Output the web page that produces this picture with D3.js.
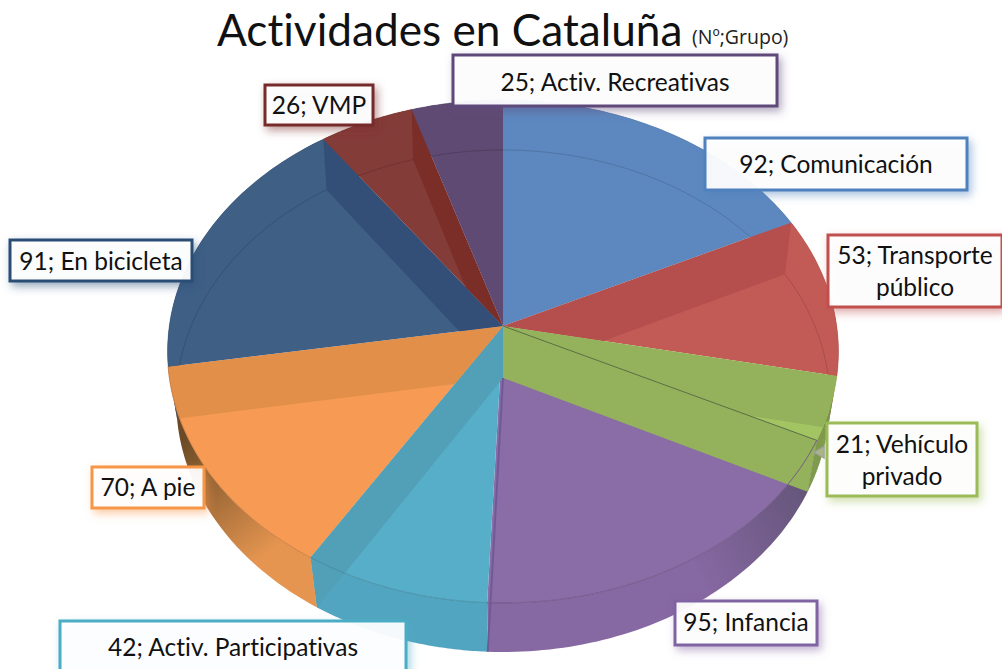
<!DOCTYPE html>
<html><head><meta charset="utf-8">
<script src="https://cdn.jsdelivr.net/npm/d3@7"></script>
<style>html,body{margin:0;padding:0;background:#fff;overflow:hidden}svg{display:block}text{font-variant-ligatures:none}</style>
</head><body><div id="c"></div>
<script>
const categories = ["Comunicación","Transporte público","Vehículo privado","Infancia","Activ. Participativas","A pie","En bicicleta","VMP","Activ. Recreativas"];
const values = [92,53,21,95,42,70,91,26,25];
const faceColors = ["#5c88bf","#c25b56","#a3c462","#8a6ca6","#57aec9","#f79b54","#3f5f85","#843c39","#5e4a72"];
const bandColors = ["#5c88bf","#b54f4e","#94b25b","#8a6ca6","#52a0b8","#e28f4a","#334f78","#7b2e28","#5e4a72"];
const borderColors = ["#4f81bd","#c0504d","#9bbb59","#8064a2","#4bacc6","#f79646","#2c4d75","#772c2a","#5f497a"];
const wallStart = ["#5c88bf","#b54f4e","#6f8a42","#5f5273","#52a5c0","#e59550","#334f78","#7b2e28","#5e4a72"];
const wallEnd = ["#5c88bf","#b54f4e","#7f9a4c","#8668a2","#52a5c0","#6b4a25","#334f78","#7b2e28","#5e4a72"];
// label layout: left, top, right, bottom, first baseline
const labelLines = [["92; Comunicación"],["53; Transporte","público"],["21; Vehículo","privado"],["95; Infancia"],["42; Activ. Participativas"],["70; A pie"],["91; En bicicleta"],["26; VMP"],["25; Activ. Recreativas"]];
const labelBoxes = [[705,138,967,190,173],[828,235,1002,307,264],[827,423,977,496,453],[675,601,817,645,631],[60,621,406,675,656],[92,467,204,508,496],[10,240,192,281,270],[265,85,373,125,114],[453,55,777,106,91]];
const titleMain = "Actividades en Cataluña";
const titleSub = "(Nº;Grupo)";

const W=1002,H=669;
const svg=d3.select("#c").append("svg").attr("width",W).attr("height",H);
const defs=svg.append("defs");

// perspective projection of the disc: top and bottom planes
const planes={top:{cx:503,cy:326,rx:333.7,ry:248.9,p:0.1014},bot:{cx:503,cy:378,rx:325.4,ry:248.9,p:0.0916}};
function proj(a,pl){const X=Math.sin(a),Y=Math.cos(a),w=1+pl.p*Y;return [pl.cx+pl.rx*X/w,pl.cy-pl.ry*Y/w];}
const line=d3.line();
const arcPts=(a0,a1,pl)=>d3.range(0,61).map(i=>proj(a0+(a1-a0)*i/60,pl));
const apex=pl=>[pl.cx,pl.cy];
const pie=d3.pie().sort(null).value(d=>d).startAngle(0).endAngle(2*Math.PI);
const arcs=pie(values);
const T=planes.top,B=planes.bot;

function sector(a0,a1,pl){return line([apex(pl),...arcPts(a0,a1,pl)])+"Z";}
function band(a,color,clip){
  const d=line([apex(T),proj(a,T),proj(a,B),apex(B)])+"Z";
  const p=g.append("path").attr("d",d).attr("fill",color);
  if(clip)p.attr("clip-path",`url(#${clip})`);
}

// outer wall gradients and clips
arcs.forEach((s,i)=>{
  const a=proj(s.startAngle,T),b=proj(s.endAngle,T);
  const gr=defs.append("linearGradient").attr("id","wall"+i).attr("gradientUnits","userSpaceOnUse")
    .attr("x1",a[0]).attr("y1",a[1]).attr("x2",b[0]).attr("y2",b[1]);
  gr.append("stop").attr("offset",i===3?0.02:(i===5?0.12:0)).attr("stop-color",wallStart[i]);
  gr.append("stop").attr("offset",i===3?0.45:(i===5?0.72:1)).attr("stop-color",wallEnd[i]);
  defs.append("clipPath").attr("id","top"+i).append("path").attr("d",sector(s.startAngle,s.endAngle,T));
});

const g=svg.append("g");
// walls
g.selectAll("path.wall").data(arcs).join("path").attr("class","wall")
  .attr("d",s=>line([...arcPts(s.startAngle,s.endAngle,T),...arcPts(s.startAngle,s.endAngle,B).reverse()])+"Z")
  .attr("fill",(s,i)=>`url(#wall${i})`);
// top faces
g.selectAll("path.face").data(arcs).join("path").attr("class","face")
  .attr("d",s=>sector(s.startAngle,s.endAngle,T))
  .attr("fill",(s,i)=>faceColors[i]);
// radial inner walls seen through the translucent disc
band(arcs[1].startAngle,bandColors[1],"top1");
band(arcs[2].startAngle,bandColors[2],"top2");
band(arcs[2].endAngle,bandColors[2]);
band(arcs[4].endAngle,bandColors[4]);
band(arcs[5].endAngle,bandColors[5],"top5");
band(arcs[6].endAngle,bandColors[6],"top6");
band(arcs[7].endAngle,bandColors[7],"top7");
// purple/teal floor edge
g.append("path").attr("d",line([apex(B),proj(arcs[3].endAngle,B)])).attr("stroke","#6f5a98").attr("stroke-width",2).attr("fill","none");
g.append("path").attr("d",line([apex(T),proj(arcs[2].endAngle,T)])).attr("stroke","#5a6f44").attr("stroke-width",1).attr("fill","none");
// bottom rim seen through the disc
arcs.forEach((s,i)=>{
  g.append("path").attr("d",line(arcPts(s.startAngle,s.endAngle,B))).attr("fill","none")
   .attr("stroke",d3.color(faceColors[i]).darker(1)).attr("stroke-opacity",.45).attr("stroke-width",1).attr("clip-path",`url(#top${i})`);
});
// top rim in front
[2,3,4,5].forEach(i=>{
  const s=arcs[i];
  g.append("path").attr("d",line(arcPts(i===2?arcs[3].startAngle:s.startAngle,s.endAngle,T))).attr("fill","none")
   .attr("stroke",d3.color(faceColors[i===2?3:i]).darker(.8)).attr("stroke-opacity",.7).attr("stroke-width",1);
});
// silhouette edge
arcs.forEach((s,i)=>{
  g.append("path").attr("d",line(arcPts(s.startAngle,s.endAngle,T))).attr("fill","none")
   .attr("stroke",d3.color(faceColors[i]).darker(.4)).attr("stroke-opacity",.5).attr("stroke-width",.8);
});
// small leader marker beside the Vehículo privado label
const ml=proj(arcs[2].endAngle,T);
g.append("path").attr("d",d3.symbol(d3.symbolTriangle,60)()).attr("transform",`translate(${ml[0]+4},${ml[1]+12}) rotate(-90)`)
  .attr("fill","#a9b58a").attr("stroke","#a0a0a0").attr("stroke-width",1.2);

// title
svg.append("text").attr("x",217).attr("y",46).attr("font-family","Lato, sans-serif").attr("font-size",44.2).attr("fill","#111").text(titleMain);
svg.append("text").attr("x",692).attr("y",44).attr("font-family","'Open Sans', sans-serif").attr("font-size",19.5).attr("fill","#222").text(titleSub);

// labels
arcs.forEach((s,i)=>{
  const [l,t,r,b,base]=labelBoxes[i],c=borderColors[i];
  const fid="sh"+i;
  const f=defs.append("filter").attr("id",fid).attr("x","-20%").attr("y","-30%").attr("width","150%").attr("height","170%");
  f.append("feDropShadow").attr("dx",3).attr("dy",4).attr("stdDeviation",4).attr("flood-color",c).attr("flood-opacity",.5);
  const gg=svg.append("g");
  gg.append("rect").attr("x",l).attr("y",t).attr("width",r-l).attr("height",b-t).attr("fill","#fff").attr("fill-opacity",.93)
    .attr("stroke",c).attr("stroke-width",3).attr("filter",`url(#${fid})`);
  const cx=(l+r)/2;
  labelLines[i].forEach((tx,k)=>{
    gg.append("text").attr("x",cx).attr("y",base+k*32).attr("text-anchor","middle")
      .attr("font-family","Lato, sans-serif").attr("font-size",24.5).attr("fill","#111").text(tx);
  });
});
</script></body></html>
